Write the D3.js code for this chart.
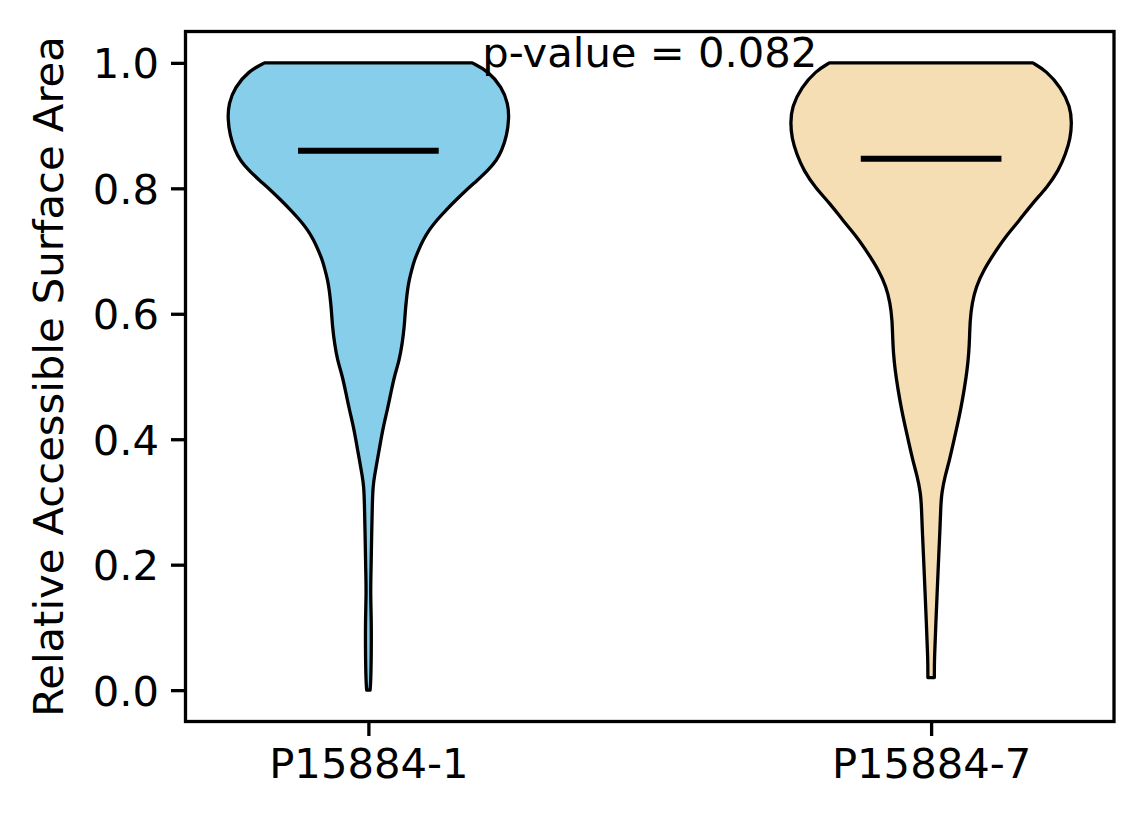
<!DOCTYPE html>
<html>
<head>
<meta charset="utf-8">
<script src="https://cdn.jsdelivr.net/npm/d3@7"></script>
<style>
body{margin:0;background:#fff}
svg{display:block}
text{font-family:"DejaVu Sans",sans-serif;fill:#000}
</style>
</head>
<body>
<div id="chartDiv"></div>
<script>
//---data---
var Categories=["P15884-1","P15884-7"]
var Positions=[1,2]
var Medians=[0.860,0.847]
var YTicks=[0,0.2,0.4,0.6,0.8,1.0]
var PValueLabel="p-value = 0.082"
var YLabel="Relative Accessible Surface Area"
var FillColors=["#87ceeb","#f5deb3"]

//---violin outlines: value levels + relative half width (1 = widest)---
var Violin1Levels=[1.0,0.987,0.961,0.935,0.912,0.885,0.860,0.845,0.829,0.813,0.797,0.781,0.765,0.749,0.734,0.718,0.702,0.686,0.670,0.654,0.638,0.622,0.606,0.579,0.553,0.526,0.500,0.474,0.447,0.420,0.394,0.367,0.341,0.325,0.299,0.245,0.192,0.156,0.113,0.060,0.013,0.0]
var Violin1Widths=[0.738,0.851,0.950,0.993,1.0,0.985,0.948,0.912,0.852,0.775,0.694,0.621,0.550,0.485,0.432,0.390,0.357,0.328,0.308,0.290,0.278,0.270,0.263,0.255,0.241,0.220,0.184,0.160,0.135,0.106,0.085,0.064,0.043,0.033,0.028,0.023,0.019,0.015,0.021,0.021,0.017,0.012]
var Violin2Levels=[1.0,0.987,0.961,0.930,0.904,0.880,0.855,0.828,0.802,0.775,0.749,0.722,0.696,0.670,0.643,0.617,0.590,0.560,0.537,0.510,0.480,0.447,0.420,0.394,0.367,0.341,0.315,0.290,0.261,0.208,0.156,0.102,0.049,0.020]
var Violin2Widths=[0.723,0.820,0.922,0.990,1.0,0.990,0.957,0.905,0.826,0.716,0.628,0.525,0.447,0.374,0.319,0.291,0.277,0.273,0.268,0.256,0.236,0.210,0.184,0.158,0.131,0.099,0.075,0.068,0.064,0.053,0.043,0.033,0.023,0.023]

var Width=1144
var Height=824
var PlotLeft=185.5,PlotRight=1114,PlotTop=31.5,PlotBottom=721.5
var ViolinHalf=0.25
var FontSize=41.7

var ChartSVG=d3.select("#chartDiv").append("svg")
    .attr("width",Width)
    .attr("height",Height)
    .attr("viewBox","0 0 "+Width+" "+Height)

var XScale=d3.scaleLinear().domain([0.675,2.325]).range([PlotLeft,PlotRight])
var YScale=d3.scaleLinear().domain([-0.05,1.05]).range([PlotBottom,PlotTop])

var ViolinData=[
    {levels:Violin1Levels,widths:Violin1Widths},
    {levels:Violin2Levels,widths:Violin2Widths}
]

//---violin bodies---
var ViolinG=ChartSVG.append("g").attr("id","violinG")
ViolinData.forEach(function(v,i)
{
    var pos=Positions[i]
    var pts=v.levels.map(function(l,k){return {v:l,w:v.widths[k]}})
    var area=d3.area()
    .y(function(d){return YScale(d.v)})
    .x0(function(d){return XScale(pos-ViolinHalf*d.w)})
    .x1(function(d){return XScale(pos+ViolinHalf*d.w)})
    .curve(d3.curveBasis)

    ViolinG.append("path")
    .attr("d",area(pts))
    .attr("fill",FillColors[i])
    .attr("stroke","#000")
    .attr("stroke-width","3.3")
    .attr("stroke-linejoin","round")
})

//---median lines---
ChartSVG.append("g").attr("id","medianG")
    .selectAll("line")
    .data(Medians)
    .join("line")
    .attr("x1",function(d,i){return XScale(Positions[i]-ViolinHalf/2)})
    .attr("x2",function(d,i){return XScale(Positions[i]+ViolinHalf/2)})
    .attr("y1",function(d){return YScale(d)})
    .attr("y2",function(d){return YScale(d)})
    .attr("stroke","#000")
    .attr("stroke-width","6")

//---axes---
var YAxis=d3.axisLeft(YScale).tickValues(YTicks).tickFormat(d3.format(".1f")).tickSize(14.5).tickPadding(12)
var XAxis=d3.axisBottom(XScale).tickValues(Positions).tickFormat(function(d,i){return Categories[i]}).tickSize(14.5).tickPadding(12)

var YAxisG=ChartSVG.append("g")
    .attr("transform","translate("+PlotLeft+",0)")
    .call(YAxis)
var XAxisG=ChartSVG.append("g")
    .attr("transform","translate(0,"+PlotBottom+")")
    .call(XAxis)

;[YAxisG,XAxisG].forEach(function(g)
{
    g.select(".domain").remove()
    g.selectAll(".tick line").attr("stroke","#000").attr("stroke-width","3.3")
    g.selectAll(".tick text").attr("font-family","DejaVu Sans").attr("font-size",FontSize).attr("fill","#000")
})
YAxisG.selectAll(".tick text").attr("dy","0.36em")
XAxisG.selectAll(".tick text").attr("dy","0.72em")

//---frame---
ChartSVG.append("rect")
    .attr("x",PlotLeft)
    .attr("y",PlotTop)
    .attr("width",PlotRight-PlotLeft)
    .attr("height",PlotBottom-PlotTop)
    .attr("fill","none")
    .attr("stroke","#000")
    .attr("stroke-width","3.3")

//---y label---
ChartSVG.append("text")
    .attr("transform","translate(63,"+((PlotTop+PlotBottom)/2)+") rotate(-90)")
    .attr("text-anchor","middle")
    .attr("font-size",FontSize)
    .text(YLabel)

//---p-value---
ChartSVG.append("text")
    .attr("x",XScale((Positions[0]+Positions[1])/2))
    .attr("y",YScale(1.0)+4)
    .attr("text-anchor","middle")
    .attr("font-size",FontSize)
    .text(PValueLabel)
</script>
</body>
</html>
